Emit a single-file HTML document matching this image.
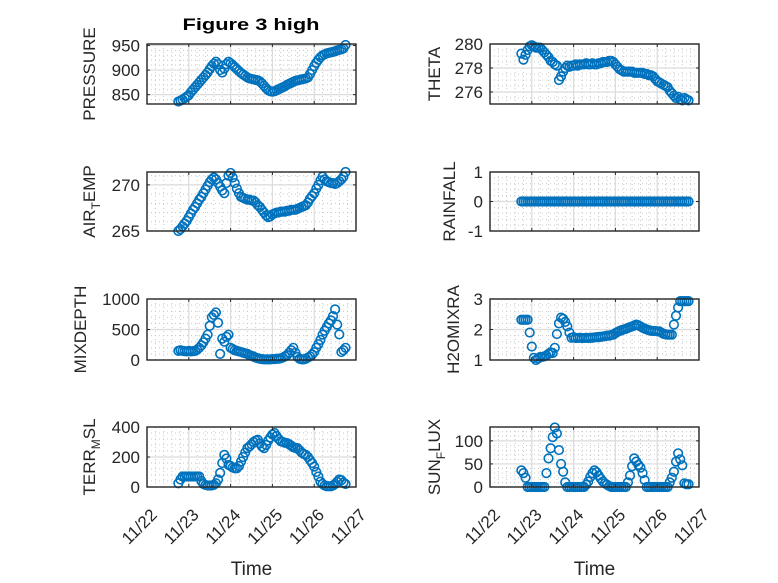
<!DOCTYPE html>
<html><head><meta charset="utf-8">
<style>
html,body{margin:0;padding:0;background:#fff;}
svg{display:block;font-family:"Liberation Sans",sans-serif;}
</style></head>
<body>
<svg id="fig" width="778" height="583" viewBox="0 0 778 583" xmlns="http://www.w3.org/2000/svg">
<rect x="0" y="0" width="778" height="583" fill="#fff"/>
<text x="251" y="30" text-anchor="middle" font-size="17" font-weight="bold" fill="#000" textLength="137" lengthAdjust="spacingAndGlyphs">Figure 3 high</text>
</svg>
<script>
// time axis: days of November, start and sample step
const tStart = 22.75;
const tStep = 0.05;
const xTickValues = [22, 23, 24, 25, 26, 27];
const xTickLabels = ["11/22", "11/23", "11/24", "11/25", "11/26", "11/27"];

const pressure = [836,838,840,843,846,849,855,860,865,870,
875,880,885,890,895,902,908,913,917,912,
900,895,903,912,917,914,910,906,902,898,
894,891,888,885,883,882,881,880,879,877,
873,868,863,859,857,856,857,859,861,863,
865,867,870,872,874,876,878,879,880,881,
882,883,885,892,900,908,915,921,926,930,
932,934,935,936,937,938,940,941,942,944,951];
const theta = [279.2,278.7,279.1,279.5,279.8,279.9,279.8,279.7,279.7,279.7,
279.5,279.3,279.1,278.9,278.6,278.5,278.3,278.2,277.0,277.3,
277.7,278.0,278.2,278.1,278.2,278.2,278.3,278.2,278.3,278.3,
278.3,278.4,278.3,278.3,278.4,278.3,278.3,278.4,278.4,278.5,
278.5,278.5,278.6,278.6,278.5,278.3,278.1,277.9,277.8,277.7,
277.7,277.7,277.7,277.7,277.6,277.6,277.6,277.6,277.6,277.5,
277.5,277.4,277.4,277.3,277.1,276.9,276.8,276.7,276.6,276.5,
276.4,276.1,275.9,275.7,275.5,275.6,275.4,275.3,275.5,275.4,275.3];
const airTemp = [265.0,265.2,265.5,265.8,266.1,266.5,266.9,267.3,267.6,268.0,
268.4,268.7,269.1,269.5,269.9,270.3,270.6,270.8,270.6,270.2,
269.8,269.4,269.1,270.2,271.0,271.3,270.8,270.2,269.6,269.1,
268.7,268.6,268.5,268.4,268.4,268.3,268.3,268.1,267.8,267.6,
267.3,267.0,266.7,266.5,266.6,266.8,266.9,267.0,267.0,267.1,
267.1,267.1,267.2,267.2,267.3,267.3,267.3,267.4,267.5,267.6,
267.7,267.8,268.1,268.5,268.8,269.1,269.6,270.0,270.5,270.9,
270.6,270.4,270.3,270.2,270.2,270.1,270.2,270.4,270.6,270.9,271.4];
const rainfall = [0,0,0,0,0,0,0,0,0,0,
0,0,0,0,0,0,0,0,0,0,
0,0,0,0,0,0,0,0,0,0,
0,0,0,0,0,0,0,0,0,0,
0,0,0,0,0,0,0,0,0,0,
0,0,0,0,0,0,0,0,0,0,
0,0,0,0,0,0,0,0,0,0,
0,0,0,0,0,0,0,0,0,0,0];
const mixDepth = [150,160,150,145,140,150,140,145,150,170,
200,240,290,350,415,560,700,740,780,610,
100,350,300,380,415,200,180,160,150,140,
130,120,110,100,80,70,55,40,30,20,
15,10,10,10,10,15,15,20,20,30,
40,60,80,120,160,200,120,50,20,10,
10,20,40,60,90,130,200,260,330,415,
480,540,600,650,720,830,580,420,130,160,200];
const h2oMix = [2.32,2.32,2.32,2.32,1.9,1.44,1.07,1.0,1.05,1.1,
1.1,1.12,1.15,1.2,1.25,1.23,1.4,1.85,2.2,2.39,
2.35,2.25,2.1,1.9,1.73,1.75,1.72,1.72,1.73,1.72,
1.72,1.73,1.72,1.73,1.73,1.74,1.75,1.75,1.76,1.77,
1.78,1.8,1.8,1.82,1.83,1.88,1.92,1.95,1.98,2.0,
2.02,2.05,2.08,2.1,2.13,2.16,2.14,2.1,2.06,2.03,
2.0,1.98,1.96,1.95,1.95,1.94,1.94,1.9,1.86,1.84,
1.83,1.83,1.83,2.16,2.45,2.72,2.93,2.93,2.93,2.93,2.93];
const terrMsl = [25,50,70,70,70,70,70,70,70,70,
70,40,20,13,10,10,10,15,25,50,
94,160,214,190,147,140,130,125,125,140,
170,200,230,259,270,285,300,310,315,290,
270,259,280,310,330,350,360,340,320,305,
300,295,293,285,275,265,260,259,245,230,
220,214,200,180,160,136,100,70,36,20,
10,5,5,5,10,20,35,50,45,30,20];
const sunFlux = [36,30,20,0,0,0,0,0,0,0,
0,0,30,62,84,108,129,116,80,50,
33,10,0,0,0,0,0,0,0,0,
0,5,12,22,30,36,32,25,18,12,
8,5,2,0,0,0,0,0,0,0,
0,10,25,45,62,55,48,42,30,15,
0,0,0,0,0,0,0,0,0,0,
0,10,20,33,55,73,60,47,8,6,6];

const yTicksPressure = [850, 900, 950];
const yTicksTheta = [276, 278, 280];
const yTicksAir = [265, 270];
const yTicksRain = [-1, 0, 1];
const yTicksMix = [0, 500, 1000];
const yTicksH2o = [1, 2, 3];
const yTicksTerr = [0, 200, 400];
const yTicksSun = [0, 50, 100];

const NS = "http://www.w3.org/2000/svg";
const svg = document.getElementById("fig");
function mk(tag, attrs, parent) {
  const e = document.createElementNS(NS, tag);
  for (const k in attrs) e.setAttribute(k, attrs[k]);
  (parent || svg).appendChild(e);
  return e;
}

const cols = [{x0:147, x1:356}, {x0:490, x1:699}];
const rows = [{y0:44, y1:104}, {y0:172, y1:231}, {y0:299, y1:360}, {y0:427, y1:487}];

const panels = [
  {name:"pressure", vals:pressure, ymin:831, ymax:953, ticks:yTicksPressure, minor:10, col:0, row:0, label:["PRESSURE"], lx:95},
  {name:"theta", vals:theta, ymin:275, ymax:280, ticks:yTicksTheta, minor:0.5, col:1, row:0, label:["THETA"], lx:440},
  {name:"air-temp", vals:airTemp, ymin:265, ymax:271.4, ticks:yTicksAir, minor:1, col:0, row:1, label:["AIR","T","EMP"], lx:95},
  {name:"rainfall", vals:rainfall, ymin:-1, ymax:1, ticks:yTicksRain, minor:0.2, col:1, row:1, label:["RAINFALL"], lx:455},
  {name:"mixdepth", vals:mixDepth, ymin:0, ymax:1000, ticks:yTicksMix, minor:100, col:0, row:2, label:["MIXDEPTH"], lx:86},
  {name:"h2omixra", vals:h2oMix, ymin:1, ymax:3, ticks:yTicksH2o, minor:0.2, col:1, row:2, label:["H2OMIXRA"], lx:459},
  {name:"terr-msl", vals:terrMsl, ymin:0, ymax:400, ticks:yTicksTerr, minor:40, col:0, row:3, label:["TERR","M","SL"], lx:95},
  {name:"sun-flux", vals:sunFlux, ymin:0, ymax:130, ticks:yTicksSun, minor:10, col:1, row:3, label:["SUN","F","LUX"], lx:440}
];

panels.forEach(p => {
  const c = cols[p.col], r = rows[p.row];
  const xs = d => c.x0 + (d - 22) / 5 * (c.x1 - c.x0);
  const ys = v => r.y1 - (v - p.ymin) / (p.ymax - p.ymin) * (r.y1 - r.y0);
  const g = mk("g", {});
  
  
  mk("rect", {x:c.x0, y:r.y0, width:c.x1-c.x0, height:r.y1-r.y0, fill:"#fff"}, g);
  for (let d = 22; d <= 27.001; d += 0.2) {
    const x = xs(d);
    mk("line", {x1:x, x2:x, y1:r.y0, y2:r.y1, stroke:"#c8c8c8", "stroke-width":1, "stroke-dasharray":"1,3"}, g);
  }
  const m0 = Math.ceil(p.ymin / p.minor - 1e-9);
  for (let k = m0; k * p.minor <= p.ymax + 1e-9; k++) {
    const y = ys(k * p.minor);
    mk("line", {x1:c.x0, x2:c.x1, y1:y, y2:y, stroke:"#c8c8c8", "stroke-width":1, "stroke-dasharray":"1,3"}, g);
  }
  xTickValues.forEach(d => {
    const x = xs(d);
    mk("line", {x1:x, x2:x, y1:r.y0, y2:r.y1, stroke:"#dcdcdc", "stroke-width":1.2}, g);
  });
  p.ticks.forEach(v => {
    const y = ys(v);
    mk("line", {x1:c.x0, x2:c.x1, y1:y, y2:y, stroke:"#dcdcdc", "stroke-width":1.2}, g);
  });
  p.vals.forEach((v, i) => {
    const pt = mk("circle", {cx:xs(tStart + i * tStep), cy:ys(v), r:4.3, fill:"none", stroke:"#0072BD", "stroke-width":1.6}, g);
    
    
  });
  xTickValues.forEach(d => {
    const x = xs(d);
    mk("line", {x1:x, x2:x, y1:r.y1, y2:r.y1-3, stroke:"#262626", "stroke-width":1}, g);
    mk("line", {x1:x, x2:x, y1:r.y0, y2:r.y0+3, stroke:"#262626", "stroke-width":1}, g);
  });
  p.ticks.forEach(v => {
    const y = ys(v);
    mk("line", {x1:c.x0, x2:c.x0+3, y1:y, y2:y, stroke:"#262626", "stroke-width":1}, g);
    mk("line", {x1:c.x1, x2:c.x1-3, y1:y, y2:y, stroke:"#262626", "stroke-width":1}, g);
    const t = mk("text", {x:c.x0-7, y:y+6, "text-anchor":"end", "font-size":17, fill:"#262626"}, g);
    t.textContent = String(v);
    
    
  });
  const box = mk("rect", {x:c.x0, y:r.y0, width:c.x1-c.x0, height:r.y1-r.y0, fill:"none", stroke:"#262626", "stroke-width":1.4}, g);
  
  
  const cy = (r.y0 + r.y1) / 2;
  const lab = mk("text", {x:0, y:0, "text-anchor":"middle", "font-size":17, fill:"#262626", transform:`translate(${p.lx},${cy}) rotate(-90)`}, g);
  
  
  if (p.label.length === 1) {
    lab.textContent = p.label[0];
  } else {
    const a = mk("tspan", {}, lab); a.textContent = p.label[0];
    const b = mk("tspan", {dy:5, "font-size":12}, lab); b.textContent = p.label[1];
    const d2 = mk("tspan", {dy:-5}, lab); d2.textContent = p.label[2];
  }
  if (p.row === 3) {
    xTickValues.forEach((d, i) => {
      const x = xs(d);
      const t = mk("text", {x:0, y:0, "text-anchor":"end", "font-size":17, fill:"#262626", transform:`translate(${x+11},${r.y1+29}) rotate(-45)`}, g);
      t.textContent = xTickLabels[i];
      
      
    });
    const tl = mk("text", {x:(c.x0+c.x1)/2, y:575, "text-anchor":"middle", "font-size":19, fill:"#262626"}, g);
    tl.textContent = "Time";
    
    
  }
});
</script>
</body></html>
